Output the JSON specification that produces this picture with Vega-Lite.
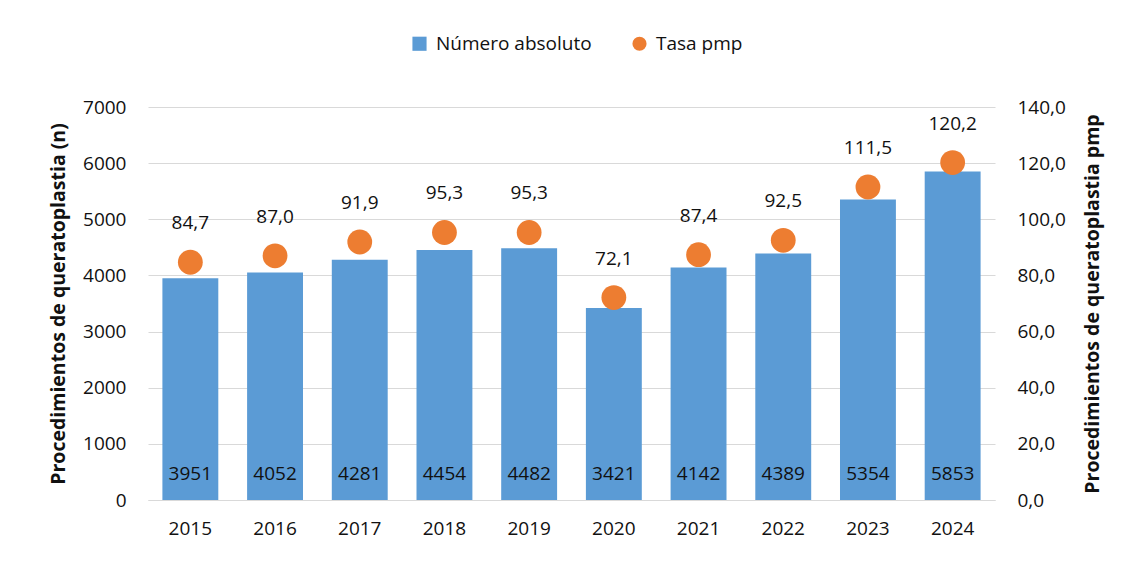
{
  "$schema": "https://vega.github.io/schema/vega-lite/v6.json",
  "width": 847,
  "height": 393,
  "autosize": {"type": "none"},
  "padding": {"left": 148, "top": 107, "right": 139, "bottom": 86},
  "background": "white",
  "config": {
    "locale": {"number": {"decimal": ",", "thousands": ".", "grouping": [3], "currency": ["", " €"]}},
    "font": "Open Sans",
    "view": {"stroke": null},
    "axis": {"labelFont": "Open Sans", "labelFontSize": 19, "labelColor": "#111111", "titleFont": "Open Sans", "titleFontSize": 19.5, "titleFontWeight": "bold", "titleColor": "#111111"}
  },
  "data": {
    "values": [
      {"anio": "2015", "n": 3951, "tasa": 84.7},
      {"anio": "2016", "n": 4052, "tasa": 87.0},
      {"anio": "2017", "n": 4281, "tasa": 91.9},
      {"anio": "2018", "n": 4454, "tasa": 95.3},
      {"anio": "2019", "n": 4482, "tasa": 95.3},
      {"anio": "2020", "n": 3421, "tasa": 72.1},
      {"anio": "2021", "n": 4142, "tasa": 87.4},
      {"anio": "2022", "n": 4389, "tasa": 92.5},
      {"anio": "2023", "n": 5354, "tasa": 111.5},
      {"anio": "2024", "n": 5853, "tasa": 120.2}
    ]
  },
  "encoding": {
    "x": {
      "field": "anio", "type": "nominal",
      "scale": {"paddingInner": 0.34, "paddingOuter": 0.17},
      "axis": {"title": null, "labelAngle": 0, "ticks": false, "domainColor": "#d9d9d9", "labelPadding": 19, "labelFontWeight": "normal"}
    }
  },
  "layer": [
    {
      "layer": [
        {
          "mark": {"type": "bar", "color": "#5b9bd5"},
          "encoding": {
            "y": {
              "field": "n", "type": "quantitative",
              "scale": {"domain": [0, 7000]},
              "axis": {"title": "Procedimientos de queratoplastia (n)", "tickCount": 7, "format": "d", "domain": false, "ticks": false, "gridColor": "#d9d9d9", "labelPadding": 22, "titlePadding": 14}
            },
            "color": {
              "datum": "Número absoluto",
              "scale": {"domain": ["Número absoluto", "Tasa pmp"], "range": ["#5b9bd5", "#ed7d31"]},
              "legend": {
                "title": null, "orient": "none", "legendX": 262, "legendY": -73, "direction": "horizontal",
                "labelFont": "Open Sans", "labelFontSize": 19, "labelColor": "#111111", "symbolSize": 200, "symbolStrokeWidth": 0,
                "columnPadding": 38, "labelOffset": 7,
                "encode": {"symbols": {"update": {"shape": {"signal": "datum.value === 'Tasa pmp' ? 'circle' : 'square'"}}}}
              }
            }
          }
        },
        {
          "mark": {"type": "text", "baseline": "middle", "dy": -26, "fontSize": 19, "color": "#111111", "font": "Open Sans"},
          "encoding": {
            "y": {"datum": 0, "type": "quantitative", "scale": {"domain": [0, 7000]}},
            "text": {"field": "n", "type": "quantitative", "format": "d"}
          }
        }
      ]
    },
    {
      "layer": [
        {
          "mark": {"type": "point", "filled": true, "size": 615, "opacity": 1, "shape": "circle", "color": "#ed7d31"},
          "encoding": {
            "y": {
              "field": "tasa", "type": "quantitative",
              "scale": {"domain": [0, 140]},
              "axis": {"title": "Procedimientos de queratoplastia pmp", "orient": "right", "tickCount": 7, "format": ".1f", "domain": false, "ticks": false, "grid": false, "labelPadding": 22, "titlePadding": 18, "titleAngle": 270, "titleBaseline": "top"}
            },
            "color": {"datum": "Tasa pmp"}
          }
        },
        {
          "mark": {"type": "text", "baseline": "middle", "dy": -39, "fontSize": 19, "color": "#111111", "font": "Open Sans"},
          "encoding": {
            "y": {"field": "tasa", "type": "quantitative", "scale": {"domain": [0, 140]}},
            "text": {"field": "tasa", "type": "quantitative", "format": ".1f"}
          }
        }
      ]
    }
  ],
  "resolve": {"scale": {"y": "independent"}}
}
